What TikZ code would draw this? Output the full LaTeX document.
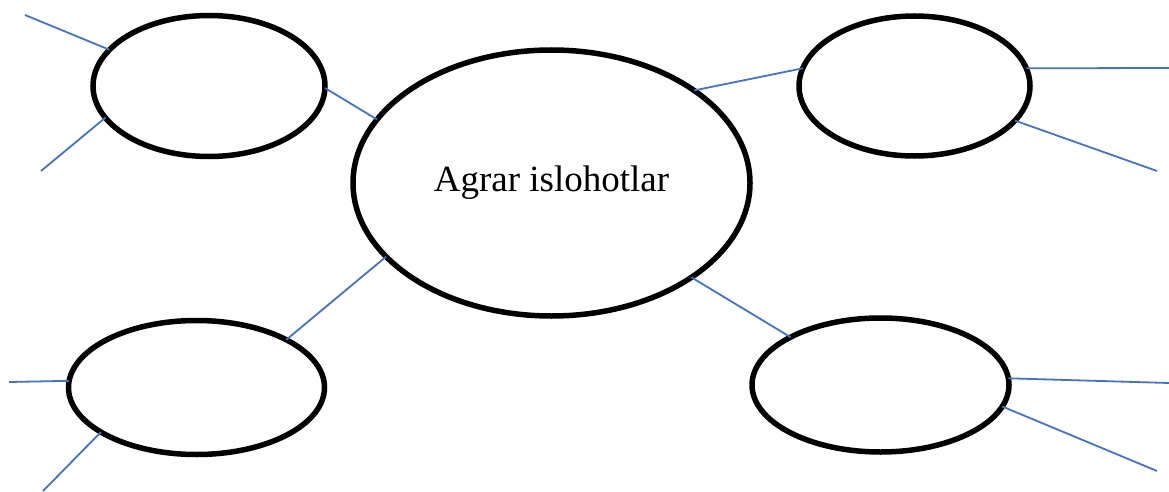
\documentclass[tikz,border=0pt]{standalone}
\usepackage{fontspec}
\setmainfont{Liberation Serif}
\usetikzlibrary{shapes.geometric}
\definecolor{linkblue}{RGB}{68,114,196}
\begin{document}
\begin{tikzpicture}[x=1pt,y=-1pt,
  bubble/.style={draw=black,line width=5.5pt,ellipse,inner sep=0pt,outer sep=0pt},
  link/.style={draw=linkblue,line width=1.8pt}]
\useasboundingbox (0,0) rectangle (1169,492);
\node[bubble,minimum width=397pt,minimum height=266pt,font=\fontsize{37}{42}\selectfont] (c) at (551.5,183) {Agrar islohotlar};
\node[bubble,minimum width=232pt,minimum height=141pt] (tl) at (209,86) {};
\node[bubble,minimum width=231pt,minimum height=140pt] (tr) at (914.5,86) {};
\node[bubble,minimum width=256pt,minimum height=134pt] (bl) at (196.5,387.5) {};
\node[bubble,minimum width=257pt,minimum height=134pt] (br) at (880.5,385) {};
\coordinate (f1) at (25,15);
\coordinate (f2) at (41,171);
\coordinate (f3) at (1169,68);
\coordinate (f4) at (1157,171);
\coordinate (f5) at (9,382);
\coordinate (f6) at (43,491);
\coordinate (f7) at (1169,383);
\coordinate (f8) at (1157,471);
\draw[link] (f1) -- (tl.160.6);
\draw[link] (f2) -- (tl.197.9);
\draw[link] (tl.-1.5) -- (c.160.1);
\draw[link] (c.33.3) -- (tr.171.3);
\draw[link] (tr.9.1) -- (f3);
\draw[link] (tr.-19.3) -- (f4);
\draw[link] (c.204.8) -- (bl.28.9);
\draw[link] (f5) -- (bl.177.5);
\draw[link] (f6) -- (bl.205.4);
\draw[link] (c.-34.2) -- (br.152.1);
\draw[link] (br.3.2) -- (f7);
\draw[link] (br.-10.9) -- (f8);
\end{tikzpicture}
\end{document}
